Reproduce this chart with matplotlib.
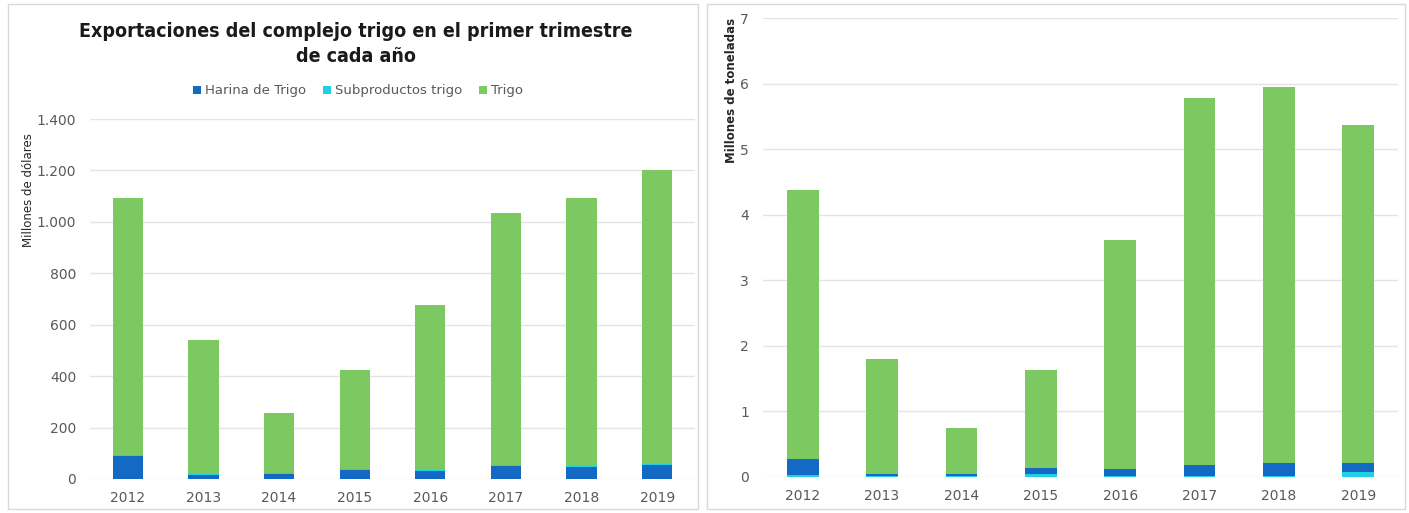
import matplotlib.pyplot as plt
from matplotlib.patches import Rectangle
from matplotlib.ticker import FuncFormatter

years = ['2012', '2013', '2014', '2015', '2016', '2017', '2018', '2019']

# millones de dolares
harina_usd = [90, 15, 18, 36, 31, 50, 48, 54]
subprod_usd = [4, 3, 4, 3, 3, 4, 3, 5]
trigo_usd = [1000, 521, 234, 384, 641, 981, 1043, 1143]

# millones de toneladas
harina_tn = [0.25, 0.03, 0.03, 0.10, 0.10, 0.16, 0.19, 0.14]
subprod_tn = [0.03, 0.02, 0.02, 0.04, 0.02, 0.02, 0.02, 0.07]
trigo_tn = [4.09, 1.75, 0.70, 1.49, 3.49, 5.60, 5.74, 5.16]

c_harina = '#1469c4'
c_subprod = '#1fd0e4'
c_trigo = '#7cc962'
c_text = '#595959'
c_grid = '#e4e4e4'

fig = plt.figure(figsize=(14.09, 5.13), dpi=100)
W, H = 1409, 513

# panel frames
fig.patches.append(Rectangle((8 / W, 4 / H), 690 / W, 505 / H, transform=fig.transFigure,
                             facecolor='none', edgecolor='#d9d9d9', lw=1, zorder=-1))
fig.patches.append(Rectangle((707 / W, 4 / H), 698 / W, 505 / H, transform=fig.transFigure,
                             facecolor='none', edgecolor='#d9d9d9', lw=1, zorder=-1))


def stacked(ax, series):
    # series: list of (values, color, label), bottom first
    x = range(len(years))
    base = [0] * len(years)
    for vals, col, lab in series:
        ax.bar(x, vals, width=0.4, bottom=base, color=col, label=lab, zorder=3)
        base = [b + v for b, v in zip(base, vals)]
    ax.set_xlim(-0.5, len(years) - 0.5)
    ax.set_xticks(list(x))
    ax.set_xticklabels(years)
    ax.grid(axis='y', color=c_grid, lw=1, zorder=0)
    for s in ax.spines.values():
        s.set_visible(False)
    ax.tick_params(length=0, colors=c_text, labelsize=10)
    ax.tick_params(axis='x', pad=9)
    ax.tick_params(axis='y', pad=10)
    ax.set_facecolor('none')


ax1 = fig.add_axes([90 / W, (H - 479) / H, 605 / W, 360 / H])
stacked(ax1, [(harina_usd, c_harina, 'Harina de Trigo'),
              (subprod_usd, c_subprod, 'Subproductos trigo'),
              (trigo_usd, c_trigo, 'Trigo')])
ax1.set_ylim(0, 1400)
ax1.set_yticks(range(0, 1401, 200))
ax1.yaxis.set_major_formatter(FuncFormatter(lambda v, p: f'{int(v):,}'.replace(',', '.')))

ax2 = fig.add_axes([763 / W, (H - 477) / H, 635 / W, 459 / H])
stacked(ax2, [(subprod_tn, c_subprod, 'Subproductos trigo'),
              (harina_tn, c_harina, 'Harina de Trigo'),
              (trigo_tn, c_trigo, 'Trigo')])
ax2.set_ylim(0, 7)
ax2.set_yticks(range(0, 8))

fig.text(356 / W, 1 - 44 / H, 'Exportaciones del complejo trigo en el primer trimestre\nde cada año',
         ha='center', va='center', fontsize=14, fontweight='bold', color='#1a1a1a',
         linespacing=1.45, family='DejaVu Sans', fontstretch='condensed')

h, l = ax1.get_legend_handles_labels()
fig.legend(h, l, loc='center', bbox_to_anchor=(358 / W, 1 - 91 / H), ncol=3, frameon=False,
           fontsize=9.5, handlelength=0.6, handleheight=0.6, handletextpad=0.3,
           columnspacing=1.3, labelcolor=c_text)

fig.text(29 / W, 1 - 190 / H, 'Millones de dólares', rotation=90, ha='center', va='center',
         fontsize=8.5, color='#262626')
fig.text(731 / W, 1 - 90 / H, 'Millones de toneladas', rotation=90, ha='center', va='center',
         fontsize=8.5, color='#262626', fontweight='bold')

fig.savefig('out.png', dpi=100)
